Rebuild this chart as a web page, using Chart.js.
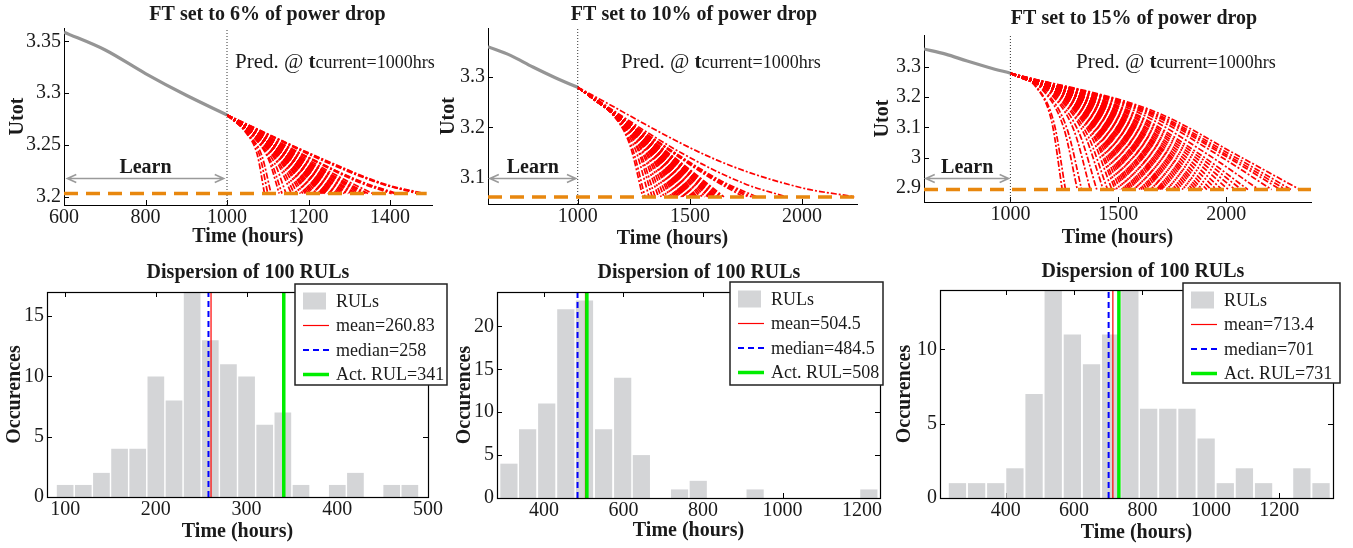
<!DOCTYPE html>
<html><head><meta charset="utf-8">
<script src="https://cdn.jsdelivr.net/npm/chart.js@4.4.1/dist/chart.umd.min.js"></script>
<style>
html,body{margin:0;padding:0;background:#fff;}
#wrap{position:relative;width:1353px;height:548px;overflow:hidden;}
#wrap canvas{position:absolute;left:0;top:0;}
</style></head><body>
<div id="wrap">
<canvas id="c1" width="1353" height="548"></canvas>
<canvas id="c2" width="1353" height="548"></canvas>
<canvas id="c3" width="1353" height="548"></canvas>
<canvas id="c4" width="1353" height="548"></canvas>
<canvas id="c5" width="1353" height="548"></canvas>
<canvas id="c6" width="1353" height="548"></canvas>
</div>
<script>
// ---------------- DATA ----------------
const ftPercent = [6, 10, 15];
const currentTime = 1000;
const learnTime = [600, 700, 800, 900, 1000];
const learnUtot = [3.359, 3.342, 3.319, 3.298, 3.279];
const predStart = [1000, 3.279];
const thresholds = [3.203, 3.063, 2.895];
const thresholdSpan = [[600, 1490], [600, 2235], [600, 2392]];
const learnArrowY = [3.218, 3.1, 2.933];
const learnArrowX = [608, 992];

// predicted trajectories: [t1, Utot1, t2, Utot2, tEnd] (end on threshold)
const traj6 = [
 [1046,3.262,1074,3.241,1092],[1054,3.260,1086,3.239,1108],[1064,3.258,1102,3.236,1128],
 [1072,3.255,1116,3.233,1145],[1079,3.254,1126,3.231,1158],[1086,3.252,1138,3.230,1172],
 [1093,3.251,1149,3.228,1186],[1098,3.250,1157,3.227,1196],[1102,3.249,1164,3.227,1205],
 [1107,3.249,1171,3.226,1214],[1113,3.248,1181,3.225,1226],[1117,3.247,1187,3.224,1234],
 [1120,3.246,1192,3.224,1240],[1123,3.246,1197,3.223,1246],[1126,3.246,1202,3.223,1252],
 [1129,3.245,1206,3.222,1258],[1133,3.244,1213,3.221,1266],[1138,3.243,1221,3.220,1276],
 [1144,3.243,1230,3.220,1288],[1149,3.242,1238,3.219,1298],[1156,3.241,1250,3.218,1312],
 [1163,3.241,1261,3.218,1326],[1170,3.240,1272,3.217,1340],[1179,3.240,1286,3.217,1358],
 [1202,3.237,1323,3.214,1404],[1209,3.236,1334,3.214,1418],[1234,3.235,1374,3.213,1468],
 [1243,3.235,1389,3.212,1486],
 [1050,3.261,1080,3.240,1100],[1068,3.257,1108,3.234,1135],[1083,3.253,1132,3.230,1165],
 [1090,3.252,1144,3.229,1180],[1096,3.251,1154,3.228,1192],[1100,3.250,1160,3.227,1200],
 [1105,3.249,1168,3.226,1210],[1110,3.248,1176,3.225,1220],[1115,3.247,1184,3.225,1230],
 [1118,3.247,1190,3.224,1237],[1122,3.246,1194,3.223,1243],[1124,3.246,1199,3.223,1249],
 [1128,3.245,1204,3.222,1255],[1131,3.244,1210,3.222,1262],[1135,3.244,1216,3.221,1270],
 [1141,3.243,1226,3.220,1282],[1147,3.242,1235,3.219,1294],[1152,3.241,1244,3.219,1305],
 [1159,3.241,1254,3.218,1318],[1166,3.241,1266,3.218,1333],[1173,3.240,1277,3.217,1346],
 [1206,3.237,1330,3.214,1412],[1240,3.235,1384,3.212,1480]
];
const traj10 = [
 [1145,3.231,1232,3.166,1290],[1159,3.224,1254,3.160,1318],[1173,3.218,1276,3.153,1345],
 [1186,3.215,1298,3.148,1372],[1199,3.210,1318,3.144,1398],[1210,3.207,1336,3.139,1420],
 [1219,3.204,1350,3.137,1438],[1226,3.202,1362,3.135,1452],[1233,3.201,1373,3.134,1466],
 [1238,3.198,1381,3.132,1476],[1243,3.197,1389,3.131,1486],[1248,3.195,1397,3.129,1496],
 [1253,3.194,1405,3.128,1506],[1259,3.192,1414,3.125,1518],[1266,3.190,1426,3.123,1532],
 [1278,3.187,1444,3.120,1555],[1290,3.183,1464,3.117,1580],[1296,3.182,1474,3.116,1592],
 [1302,3.181,1483,3.115,1604],[1308,3.179,1493,3.112,1616],[1318,3.177,1508,3.110,1635],
 [1326,3.176,1522,3.109,1652],[1370,3.166,1592,3.100,1740],[1388,3.162,1620,3.097,1775],
 [1399,3.160,1638,3.095,1798],[1465,3.149,1744,3.089,1930],[1618,3.136,1988,3.082,2235],
 [1150,3.229,1240,3.164,1300],[1166,3.222,1266,3.158,1332],[1180,3.216,1288,3.151,1360],
 [1193,3.214,1308,3.147,1385],[1205,3.209,1328,3.143,1410],[1215,3.205,1344,3.138,1430],
 [1223,3.203,1356,3.136,1445],[1230,3.200,1368,3.133,1460],[1236,3.198,1377,3.132,1471],
 [1241,3.197,1385,3.131,1481],[1246,3.195,1393,3.129,1491],[1251,3.194,1401,3.128,1501],
 [1256,3.192,1410,3.125,1512],[1263,3.190,1420,3.123,1525],[1273,3.188,1436,3.121,1545],
 [1284,3.184,1454,3.118,1568],[1293,3.182,1469,3.116,1586],[1299,3.181,1478,3.115,1598],
 [1305,3.180,1488,3.114,1610],[1313,3.178,1501,3.111,1626],[1322,3.177,1515,3.110,1644],
 [1380,3.164,1608,3.098,1760]
];
const traj15 = [
 [1120,3.232,1192,3.117,1240],[1155,3.219,1248,3.096,1310],[1185,3.211,1296,3.087,1370],
 [1215,3.201,1344,3.075,1430],[1235,3.198,1376,3.069,1470],[1248,3.194,1396,3.065,1495],
 [1260,3.192,1416,3.062,1520],[1270,3.190,1432,3.060,1540],[1279,3.188,1446,3.058,1558],
 [1290,3.186,1464,3.054,1580],[1300,3.186,1480,3.052,1600],[1310,3.184,1496,3.050,1620],
 [1323,3.182,1516,3.048,1645],[1333,3.180,1532,3.046,1665],[1345,3.178,1552,3.044,1690],
 [1353,3.178,1564,3.042,1705],[1360,3.177,1576,3.041,1720],[1373,3.175,1596,3.039,1745],
 [1385,3.173,1616,3.037,1770],[1400,3.171,1640,3.033,1800],[1415,3.169,1664,3.031,1830],
 [1430,3.167,1688,3.029,1860],[1445,3.163,1712,3.025,1890],[1465,3.163,1744,3.023,1930],
 [1490,3.159,1784,3.019,1980],[1520,3.157,1832,3.014,2040],[1550,3.155,1880,3.010,2100],
 [1575,3.155,1920,3.008,2150],[1625,3.152,2000,3.004,2250],[1638,3.152,2020,3.002,2275],
 [1670,3.152,2072,3.000,2340],
 [1128,3.228,1204,3.109,1255],[1165,3.217,1264,3.092,1330],[1200,3.205,1320,3.079,1400],
 [1225,3.199,1360,3.071,1450],[1243,3.196,1388,3.067,1485],[1254,3.194,1406,3.064,1508],
 [1265,3.191,1424,3.061,1530],[1275,3.190,1440,3.058,1550],[1284,3.188,1454,3.056,1568],
 [1295,3.186,1472,3.053,1590],[1305,3.185,1488,3.051,1610],[1316,3.184,1506,3.049,1632],
 [1328,3.182,1524,3.048,1655],[1339,3.180,1542,3.046,1678],[1349,3.178,1558,3.044,1698],
 [1356,3.178,1570,3.043,1712],[1366,3.176,1586,3.041,1732],[1379,3.174,1606,3.038,1758],
 [1393,3.172,1628,3.035,1785],[1408,3.170,1652,3.032,1815],[1423,3.167,1676,3.029,1845],
 [1438,3.165,1700,3.027,1875],[1455,3.163,1728,3.024,1910],[1478,3.161,1764,3.021,1955],
 [1505,3.159,1808,3.017,2010],[1535,3.157,1856,3.012,2070],[1605,3.153,1968,3.006,2210],
 [1650,3.152,2040,3.002,2300]
];

// histograms of RULs (bin centres, counts)
const rulBins6 = [100,120,140,160,180,200,220,240,260,280,300,320,340,360,380,400,420,440,460,480];
const rulCounts6 = [1,1,2,4,4,10,8,17,13,11,10,6,7,1,0,1,2,0,1,1];
const rulBins10 = [312,359,407,455,502,550,598,645,693,741,788,836,884,931,979,1027,1074,1122,1170,1217];
const rulCounts10 = [4,8,11,22,23,8,14,5,0,1,2,0,0,1,0,0,0,0,0,1];
const rulBins15 = [259,315,371,427,483,539,595,651,707,763,818,874,930,986,1042,1098,1154,1210,1266,1322];
const rulCounts15 = [1,1,1,2,7,14,11,9,11,14,6,6,6,4,1,2,1,0,2,1];
const meanRUL = [260.83, 504.5, 713.4];
const medianRUL = [258, 484.5, 701];
const actualRUL = [341, 508, 731];

// tick labels
const topXTicks = [[600,800,1000,1200,1400],[1000,1500,2000],[1000,1500,2000]];
const topYTicks = [[3.2,3.25,3.3,3.35],[3.1,3.2,3.3],[2.9,3,3.1,3.2,3.3]];
const histXTicks = [[100,200,300,400,500],[400,600,800,1000,1200],[400,600,800,1000,1200]];
const histYTicks = [[0,5,10,15],[0,5,10,15,20],[0,5,10]];

// ---------------- LAYOUT / STYLE ----------------
const W = 1353, H = 548;
const SERIF = '"Liberation Serif", "Times New Roman", serif';
const TXT = '#1a1a1a';
Chart.defaults.font.family = SERIF;

const topRects = [{l:64,r:432,t:28,b:205},{l:488,r:857,t:28,b:204},{l:924,r:1311,t:35,b:202}];
const topXRange = [[600,1503],[600,2245],[600,2392]];
const topYRange = [[3.192,3.363],[3.049,3.396],[2.854,3.405]];
const topYTitleX = [17.5, 449, 883];
const topXTitleY = [237.3, 239, 238];
const topTitlePos = [[267.5,15],[694,15],[1134,18.5]];
const predPos = [[235,68.3],[621,68.3],[1076,68.3]];

const histRects = [{l:47,r:428,t:292,b:497},{l:497,r:880,t:292,b:498},{l:940,r:1333,t:290,b:498}];
const histXRange = [[80,500],[282,1245],[208,1357]];
const histYMax = [17, 24, 14];
const histYTitleX = [15, 465, 905];
const histXTitleY = [531.7, 531, 533];
const histTitlePos = [[248,273],[699,273],[1143,272]];
const legendBoxes = [{x:295,y:284,w:152,h:101},{x:730,y:282,w:153,h:103},{x:1183,y:283,w:157,h:100}];

const BAR_COLOR = '#d4d5d7';
const MEAN_STYLE = {color:'#ff0000', width:1.2, dash:[]};
const MED_STYLE = {color:'#0000ff', width:2, dash:[6,4]};
const ACT_STYLE = {color:'#00ee00', width:3.5, dash:[]};

function layoutFor(rect, yTitleCx, xTitleCy) {
  const left = yTitleCx - 12;
  const bottomEdge = xTitleCy + 12;
  return {
    padding: {left: left, right: W - rect.r, top: rect.t, bottom: H - bottomEdge},
    yW: rect.l - left,
    xH: bottomEdge - rect.b
  };
}

function axis(range, ticks, title, size, isX) {
  return {
    type: 'linear', min: range[0], max: range[1], offset: false,
    afterBuildTicks: s => { s.ticks = ticks.map(v => ({value: v})); },
    afterFit: s => { if (isX) s.height = size; else s.width = size; },
    grid: {display: false, offset: false, drawTicks: false},
    border: {display: true, color: '#000', width: 1},
    ticks: {padding: isX ? 1 : 3, autoSkip: false, maxRotation: 0, minRotation: 0, color: TXT,
            font: {family: SERIF, size: 20}, callback: v => String(v)},
    title: {display: true, text: title, color: TXT, padding: 0,
            font: {family: SERIF, size: 20, weight: 'bold'}}
  };
}

// ---------------- PLUGINS ----------------
const tickMarks = {
  id: 'tickMarks',
  beforeDatasetsDraw(chart, args, o) {
    const {ctx, chartArea: a} = chart; const x = chart.scales.x, y = chart.scales.y;
    const L = 5;
    ctx.save(); ctx.strokeStyle = '#000'; ctx.lineWidth = 1; ctx.beginPath();
    x.ticks.forEach(t => { const p = Math.round(x.getPixelForValue(t.value)) + 0.5;
      ctx.moveTo(p, a.bottom); ctx.lineTo(p, a.bottom - L);
      if (o.box) { ctx.moveTo(p, a.top); ctx.lineTo(p, a.top + L); } });
    y.ticks.forEach(t => { const p = Math.round(y.getPixelForValue(t.value)) + 0.5;
      ctx.moveTo(a.left, p); ctx.lineTo(a.left + L, p);
      if (o.box) { ctx.moveTo(a.right, p); ctx.lineTo(a.right - L, p); } });
    ctx.stroke(); ctx.restore();
  },
  afterDatasetsDraw(chart, args, o) {
    if (!o.box) return;
    const {ctx, chartArea: a} = chart;
    ctx.save(); ctx.strokeStyle = '#000'; ctx.lineWidth = 1.2;
    ctx.strokeRect(Math.round(a.left) + 0.5, Math.round(a.top) + 0.5,
                   Math.round(a.right - a.left), Math.round(a.bottom - a.top));
    ctx.restore();
  }
};

const panelText = {
  id: 'panelText',
  afterDatasetsDraw(chart, args, o) {
    const {ctx} = chart; const x = chart.scales.x, y = chart.scales.y;
    ctx.save();
    ctx.fillStyle = TXT; ctx.font = `bold 20px ${SERIF}`;
    ctx.textAlign = 'center'; ctx.textBaseline = 'middle';
    ctx.fillText(o.title, o.titlePos[0], o.titlePos[1]);
    if (o.learn) {
      const yA = Math.round(y.getPixelForValue(o.learn.y)) + 0.5;
      const x0 = x.getPixelForValue(o.learn.from), x1 = x.getPixelForValue(o.learn.to);
      ctx.strokeStyle = '#9a9a9a'; ctx.lineWidth = 1.5;
      ctx.beginPath(); ctx.moveTo(x0, yA); ctx.lineTo(x1, yA);
      ctx.moveTo(x0 + 9, yA - 4); ctx.lineTo(x0, yA); ctx.lineTo(x0 + 9, yA + 4);
      ctx.moveTo(x1 - 9, yA - 4); ctx.lineTo(x1, yA); ctx.lineTo(x1 - 9, yA + 4);
      ctx.stroke();
      ctx.fillStyle = TXT; ctx.font = `bold 20px ${SERIF}`;
      ctx.fillText('Learn', x.getPixelForValue(o.learn.labelX), yA - 11);
    }
    if (o.pred) {
      ctx.textAlign = 'left'; ctx.textBaseline = 'alphabetic'; ctx.fillStyle = TXT;
      let px = o.pred[0]; const py = o.pred[1];
      const parts = [['Pred. @ ', `21px ${SERIF}`], ['t', `bold 21px ${SERIF}`],
                     ['current=' + currentTime + 'hrs', `18px ${SERIF}`]];
      parts.forEach(([s, f]) => { ctx.font = f; ctx.fillText(s, px, py); px += ctx.measureText(s).width; });
    }
    if (o.legend) {
      const L = o.legend;
      ctx.fillStyle = '#fff'; ctx.fillRect(L.x, L.y, L.w, L.h);
      ctx.strokeStyle = '#222'; ctx.lineWidth = 1.5; ctx.strokeRect(L.x, L.y, L.w, L.h);
      L.items.forEach((it, i) => {
        const cy = L.y + 17 + i * 24.5;
        if (it.kind === 'patch') {
          ctx.fillStyle = it.color; ctx.fillRect(L.x + 8, cy - 8.5, 23, 17);
        } else {
          ctx.strokeStyle = it.color; ctx.lineWidth = it.width; ctx.setLineDash(it.dash);
          ctx.beginPath(); ctx.moveTo(L.x + 8, cy); ctx.lineTo(L.x + 34, cy); ctx.stroke();
          ctx.setLineDash([]);
        }
        ctx.fillStyle = TXT; ctx.font = `18px ${SERIF}`; ctx.textAlign = 'left'; ctx.textBaseline = 'middle';
        ctx.fillText(it.text, L.x + 41, cy + 1);
      });
    }
    ctx.restore();
  }
};

// ---------------- CHARTS ----------------
const trajSets = [traj6, traj10, traj15];

function topChart(i) {
  const lay = layoutFor(topRects[i], topYTitleX[i], topXTitleY[i]);
  const thr = thresholds[i];
  const datasets = [];
  datasets.push({data: thresholdSpan[i].map(t => ({x: t, y: thr})), borderColor: '#e8870e',
    borderWidth: 3.5, borderDash: [14, 8], pointRadius: 0, order: 0});
  datasets.push({data: [{x: currentTime, y: topYRange[i][0]}, {x: currentTime, y: topYRange[i][1]}],
    borderColor: '#333', borderWidth: 1, borderDash: [1, 2], pointRadius: 0, order: 1});
  datasets.push({data: learnTime.map((t, k) => ({x: t, y: learnUtot[k]})), borderColor: '#959595',
    borderWidth: 3.2, pointRadius: 0, cubicInterpolationMode: 'monotone', order: 2});
  trajSets[i].forEach(r => datasets.push({
    data: [{x: predStart[0], y: predStart[1]}, {x: r[0], y: r[1]}, {x: r[2], y: r[3]}, {x: r[4], y: thr}],
    borderColor: '#ff0000', borderWidth: 1.7, borderDash: [6, 2, 2, 2], pointRadius: 0,
    cubicInterpolationMode: 'monotone', order: 5}));
  new Chart(document.getElementById('c' + (i + 1)), {
    type: 'line',
    data: {datasets},
    plugins: [tickMarks, panelText],
    options: {
      responsive: false, animation: false, events: [],
      layout: {padding: lay.padding, autoPadding: false},
      scales: {
        x: axis(topXRange[i], topXTicks[i], 'Time (hours)', lay.xH, true),
        y: axis(topYRange[i], topYTicks[i], 'Utot', lay.yW, false)
      },
      plugins: {
        legend: {display: false}, tooltip: {enabled: false},
        tickMarks: {box: false},
        panelText: {
          title: 'FT set to ' + ftPercent[i] + '% of power drop', titlePos: topTitlePos[i],
          learn: {y: learnArrowY[i], from: learnArrowX[0], to: learnArrowX[1], labelX: 800},
          pred: predPos[i]
        }
      }
    }
  });
}

const binSets = [rulBins6, rulBins10, rulBins15];
const countSets = [rulCounts6, rulCounts10, rulCounts15];

function histChart(i) {
  const lay = layoutFor(histRects[i], histYTitleX[i], histXTitleY[i]);
  const ymax = histYMax[i];
  const vline = (v, st, ord) => ({type: 'line', data: [{x: v, y: 0}, {x: v, y: ymax}],
    borderColor: st.color, borderWidth: st.width, borderDash: st.dash, pointRadius: 0, order: ord});
  const datasets = [
    vline(actualRUL[i], ACT_STYLE, 0),
    vline(meanRUL[i], MEAN_STYLE, 1),
    vline(medianRUL[i], MED_STYLE, 2),
    {type: 'bar', data: binSets[i].map((b, k) => ({x: b, y: countSets[i][k]})),
     backgroundColor: BAR_COLOR, borderWidth: 0, barPercentage: 0.92, categoryPercentage: 1, order: 5}
  ];
  new Chart(document.getElementById('c' + (i + 4)), {
    type: 'bar',
    data: {datasets},
    plugins: [tickMarks, panelText],
    options: {
      responsive: false, animation: false, events: [],
      layout: {padding: lay.padding, autoPadding: false},
      scales: {
        x: axis(histXRange[i], histXTicks[i], 'Time (hours)', lay.xH, true),
        y: axis([0, ymax], histYTicks[i], 'Occurences', lay.yW, false)
      },
      plugins: {
        legend: {display: false}, tooltip: {enabled: false},
        tickMarks: {box: true},
        panelText: {
          title: 'Dispersion of 100 RULs', titlePos: histTitlePos[i],
          legend: Object.assign({}, legendBoxes[i], {items: [
            {kind: 'patch', color: BAR_COLOR, text: 'RULs'},
            Object.assign({kind: 'line', text: 'mean=' + meanRUL[i]}, MEAN_STYLE),
            Object.assign({kind: 'line', text: 'median=' + medianRUL[i]}, MED_STYLE),
            Object.assign({kind: 'line', text: 'Act. RUL=' + actualRUL[i]}, ACT_STYLE)
          ]})
        }
      }
    }
  });
}

[0, 1, 2].forEach(topChart);
[0, 1, 2].forEach(histChart);
</script>
</body></html>
